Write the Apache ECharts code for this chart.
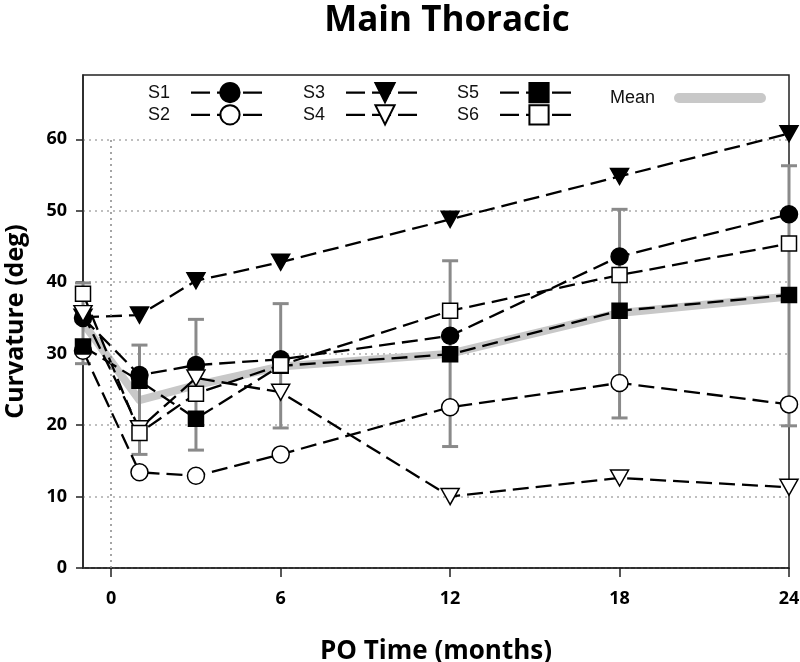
<!DOCTYPE html>
<html>
<head>
<meta charset="utf-8">
<script src="https://cdn.jsdelivr.net/npm/echarts@6/dist/echarts.min.js"></script>
<style>html,body{margin:0;padding:0;background:#fff;}#main{width:800px;height:662px;}</style>
</head>
<body>
<div id="main"></div>
<script>
// ---- data ----
var months = [-1, 1, 3, 6, 12, 18, 24];
var xTicks = [0, 6, 12, 18, 24];
var yTicks = [0, 10, 20, 30, 40, 50, 60];
var S1 = [35.0, 27.0, 28.4, 29.2, 32.5, 43.6, 49.5];
var S2 = [30.4, 13.4, 12.9, 15.9, 22.5, 25.9, 22.9];
var S3 = [35.1, 35.4, 40.2, 42.8, 48.8, 54.8, 60.8];
var S4 = [35.6, 19.5, 26.6, 24.6, 10.0, 12.6, 11.3];
var S5 = [31.0, 26.2, 20.9, 28.3, 29.9, 36.0, 38.2];
var S6 = [38.4, 18.9, 24.4, 28.4, 36.0, 41.0, 45.4];
var Mean = [34.3, 23.5, 25.6, 28.2, 30.0, 35.7, 38.0];
var errHi = [39.9, 31.2, 34.8, 37.0, 43.0, 50.2, 56.3];
var errLo = [28.6, 15.9, 16.5, 19.6, 17.0, 21.0, 19.9];

function pairs(arr){ return months.map(function(m,i){ return [m, arr[i]]; }); }

var dash = [16, 7];
function sSeries(name, arr, symbol, filled, size, rotate){
  return {
    type:'line', name:name, z:3, data:pairs(arr),
    symbol:symbol, symbolSize:size, symbolRotate:rotate||0, showAllSymbol:true,
    lineStyle:{color:'#000', width:2.3, type:dash},
    itemStyle:{color: filled ? '#000' : '#fff', borderColor:'#000', borderWidth:1.5},
    emphasis:{disabled:true}
  };
}

var chart = echarts.init(document.getElementById('main'), null, {renderer:'canvas'});
var legText = {fontFamily:'Liberation Sans', fontSize:18, color:'#111', padding:[0,16,0,0]};
function sLegend(names, left){
  return {data:names, orient:'vertical', left:left, top:82, itemWidth:78, itemHeight:24, itemGap:1,
    align:'right', padding:0, selectedMode:false, textStyle:legText,
    lineStyle:{width:2.3, type:[19,7], color:'#000'}};
}
var s1 = sSeries('S1', S1, 'circle', true, 17);
s1.markLine = {silent:true, symbol:'none', label:{show:false},
  lineStyle:{type:[2,4], color:'#888', width:1.5},
  data:[[{coord:[0,0]},{coord:[0,60]}]]};

var option = {
  animation:false,
  backgroundColor:'#fff',
  title:{text:'Main Thoracic', left:442, top:-1, textAlign:'center',
    textStyle:{fontFamily:'Open Sans', fontWeight:'bold', fontSize:35, color:'#000'}},
  legend:[
    sLegend(['S1','S2'], 148),
    sLegend(['S3','S4'], 303),
    sLegend(['S5','S6'], 457),
    {data:[{name:'Mean', icon:'path://M5,0 L87,0 A5,5 0 0 1 87,10 L5,10 A5,5 0 0 1 5,0 Z'}],
     left:610, top:89, itemWidth:92, itemHeight:10, align:'right', padding:0, selectedMode:false,
     textStyle:{fontFamily:'Liberation Sans', fontSize:18, color:'#111', padding:[0,14,0,0]}}
  ],
  grid:{left:83, right:11, top:75, bottom:94, show:true, borderColor:'#222', borderWidth:1.5,
    containLabel:false, outerBoundsMode:'none'},
  xAxis:{type:'value', min:-1, max:24,
    name:'PO Time (months)', nameLocation:'middle', nameGap:71,
    nameTextStyle:{fontFamily:'Open Sans', fontWeight:'bold', fontSize:26, color:'#000'},
    axisLine:{onZero:false, lineStyle:{color:'#222', width:1.5}},
    axisTick:{show:true, length:9, lineStyle:{color:'#222', width:1.5}, customValues:xTicks},
    axisLabel:{customValues:xTicks, margin:22, fontFamily:'Open Sans', fontWeight:'bold', fontSize:18, color:'#000'},
    splitLine:{show:false}},
  yAxis:{type:'value', min:0, max:69,
    name:'Curvature (deg)', nameLocation:'middle', nameGap:55,
    nameTextStyle:{fontFamily:'Open Sans', fontWeight:'bold', fontSize:25, color:'#000'},
    axisLine:{show:true, onZero:false, lineStyle:{color:'#222', width:1.5}},
    axisTick:{show:true, length:7, lineStyle:{color:'#222', width:1.5}, customValues:yTicks},
    axisLabel:{customValues:yTicks, margin:16, fontFamily:'Open Sans', fontWeight:'bold', fontSize:18, color:'#000'},
    splitLine:{show:true, lineStyle:{type:[2,4], color:'#aaa', width:1.5}}},
  series:[
    {type:'line', name:'Mean', z:1, data:pairs(Mean), symbol:'none',
     lineStyle:{color:'#c8c8c8', width:8, cap:'round', join:'round'},
     itemStyle:{color:'#c8c8c8'}, emphasis:{disabled:true}},
    {type:'custom', name:'SD', z:2, silent:true, clip:false,
     data: months.map(function(m,i){ return [m, errLo[i], errHi[i]]; }),
     encode:{x:0, y:[1,2]},
     renderItem:function(params, api){
       var x = api.value(0);
       var pH = api.coord([x, api.value(2)]);
       var pL = api.coord([x, api.value(1)]);
       var w = 8, st = {stroke:'#8a8a8a', lineWidth:3};
       return {type:'group', children:[
         {type:'line', shape:{x1:pH[0], y1:pH[1], x2:pL[0], y2:pL[1]}, style:st},
         {type:'line', shape:{x1:pH[0]-w, y1:pH[1], x2:pH[0]+w, y2:pH[1]}, style:st},
         {type:'line', shape:{x1:pL[0]-w, y1:pL[1], x2:pL[0]+w, y2:pL[1]}, style:st}
       ]};
     }},
    s1,
    sSeries('S2', S2, 'circle', false, 17),
    sSeries('S3', S3, 'triangle', true, [18,16], 180),
    sSeries('S4', S4, 'triangle', false, [18,16], 180),
    sSeries('S5', S5, 'rect', true, 15),
    sSeries('S6', S6, 'rect', false, 15)
  ]
};
chart.setOption(option);
</script>
</body>
</html>
